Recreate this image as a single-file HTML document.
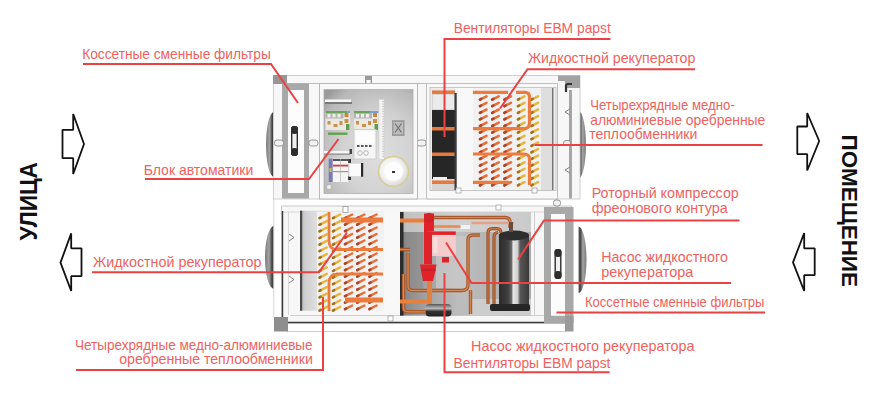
<!DOCTYPE html>
<html><head><meta charset="utf-8"><style>
html,body{margin:0;padding:0;background:#fff;width:884px;height:400px;overflow:hidden}
svg{display:block}
.t text{font-family:"Liberation Sans",sans-serif;font-size:14.5px;fill:#ee625e}
.v{font-family:"Liberation Sans",sans-serif;font-weight:bold;font-size:19px;fill:#111}
</style></head><body>
<svg width="884" height="400" viewBox="0 0 884 400">
<g id="unit">
<defs>
<linearGradient id="crl" x1="0" x2="1"><stop offset="0" stop-color="#7a7a7a"/><stop offset="0.45" stop-color="#a4a4a4"/><stop offset="0.8" stop-color="#3e3e3e"/><stop offset="1" stop-color="#6a6a6a"/></linearGradient>
<linearGradient id="crr" x1="1" x2="0"><stop offset="0" stop-color="#7a7a7a"/><stop offset="0.45" stop-color="#a4a4a4"/><stop offset="0.8" stop-color="#3e3e3e"/><stop offset="1" stop-color="#6a6a6a"/></linearGradient>
<radialGradient id="pg" cx="0.6" cy="0.62" r="0.8"><stop offset="0" stop-color="#dedede"/><stop offset="0.5" stop-color="#d2d2d2"/><stop offset="0.85" stop-color="#b8b8b8"/><stop offset="1" stop-color="#9a9a9a"/></radialGradient>
<linearGradient id="cg" x1="0" x2="1"><stop offset="0" stop-color="#2c2c2c"/><stop offset="0.3" stop-color="#3e3e3e"/><stop offset="0.42" stop-color="#6a6a6a"/><stop offset="0.47" stop-color="#e6e6e6"/><stop offset="0.62" stop-color="#cfcfcf"/><stop offset="0.7" stop-color="#585858"/><stop offset="1" stop-color="#3a3a3a"/></linearGradient>
<linearGradient id="bg2" x1="0" x2="1"><stop offset="0" stop-color="#555"/><stop offset="0.05" stop-color="#8a8a8a"/><stop offset="0.2" stop-color="#a2a2a2"/><stop offset="0.45" stop-color="#bdbdbd"/><stop offset="0.7" stop-color="#b4b4b4"/><stop offset="1" stop-color="#a8a8a8"/></linearGradient>
<linearGradient id="lg" x1="0" x2="1"><stop offset="0" stop-color="#b0b0b0"/><stop offset="0.06" stop-color="#cfcfcf"/><stop offset="0.25" stop-color="#e4e4e4"/><stop offset="1" stop-color="#efefef"/></linearGradient>
<linearGradient id="cyl" x1="0" x2="0" y1="0" y2="1"><stop offset="0" stop-color="#555"/><stop offset="0.35" stop-color="#bbb"/><stop offset="0.6" stop-color="#333"/><stop offset="1" stop-color="#222"/></linearGradient>
</defs>
<path d="M274,112 A8,32.5 0 0 0 274,177 Z" fill="url(#crl)"/>
<path d="M274,226 A9,31.5 0 0 0 274,289 Z" fill="url(#crl)"/>
<path d="M578.5,111 A7.5,33.7 0 0 1 578.5,178.4 Z" fill="url(#crr)"/>
<path d="M578.5,226.5 A8,33.25 0 0 1 578.5,293 Z" fill="url(#crr)"/>
<rect x="273.5" y="75.5" width="306.5" height="123.5" fill="#f7f7f7" stroke="#cfcfcf" stroke-width="1"/>
<line x1="287" y1="83.5" x2="558" y2="83.5" stroke="#bdbdbd" stroke-width="1"/>
<rect x="273" y="75" width="14" height="9" fill="#969696"/>
<rect x="558" y="75.5" width="22" height="12.5" fill="#a2a2a2"/><rect x="558" y="81" width="7" height="7" fill="#f4f4f4"/><path d="M566,92 V86 Q566,84 568,84 H572" fill="none" stroke="#333" stroke-width="2.2"/>
<rect x="569" y="90" width="3" height="108.5" fill="#a6a6a6"/>
<rect x="282" y="83.5" width="27" height="115" fill="#a8a8a8"/>
<rect x="288" y="90" width="16" height="103" fill="#fcfcfc"/>
<rect x="291.7" y="126.7" width="5.6" height="28.6" rx="2.5" fill="#f0f0f0" stroke="#2e2e2e" stroke-width="1.4"/><rect x="291" y="126" width="7" height="8" rx="3" fill="#2e2e2e"/><rect x="291" y="148" width="7" height="8" rx="3" fill="#2e2e2e"/>
<rect x="274.5" y="140.0" width="9" height="6" rx="2.5" fill="#f2f2f2" stroke="#8a8a8a" stroke-width="0.9"/>
<rect x="309.0" y="140.0" width="9" height="6" rx="2.5" fill="#f2f2f2" stroke="#8a8a8a" stroke-width="0.9"/>
<rect x="417.0" y="140.0" width="9" height="6" rx="2.5" fill="#f2f2f2" stroke="#8a8a8a" stroke-width="0.9"/>
<rect x="365" y="76" width="7" height="9" fill="#9a9a9a"/><rect x="366.5" y="80" width="4" height="4" fill="#fff"/>
<rect x="319.5" y="83.5" width="98" height="115.5" fill="#f8f8f8" stroke="#b8b8b8" stroke-width="1"/>
<rect x="324" y="89.5" width="89" height="104" fill="url(#pg)" stroke="#b0b0b0" stroke-width="0.8"/>
<rect x="325" y="99.5" width="26" height="2.5" fill="#f6f6f6"/><rect x="325" y="102" width="27" height="2" fill="#7a7a7a"/>
<rect x="324" y="151" width="26" height="2.5" fill="#f6f6f6"/><rect x="324" y="153.5" width="26" height="1.5" fill="#9a9a9a"/>
<rect x="325.5" y="111" width="24.5" height="19" fill="#ebe8e2"/><rect x="325.5" y="111" width="22" height="2" fill="#6aa457"/><rect x="347.5" y="111" width="2.5" height="2" fill="#7aa0d0"/><rect x="325.5" y="113" width="18" height="5.5" fill="#b4b4b4"/><rect x="327.5" y="114" width="3" height="3.5" fill="#eee"/><rect x="332.5" y="114" width="3" height="3.5" fill="#eee"/><rect x="337.5" y="114" width="3" height="3.5" fill="#eee"/><rect x="344.5" y="113" width="4" height="4" fill="#c8873c"/><rect x="327.5" y="121" width="3" height="3.5" fill="#c99050"/><rect x="333.5" y="124" width="4" height="3" fill="#c99050"/><rect x="339.5" y="121" width="3" height="4" fill="#c99050"/><rect x="344.5" y="119" width="4" height="4" fill="#c99050"/><rect x="346.0" y="124" width="3.5" height="6" fill="#5f9f4a"/>
<rect x="354" y="111" width="24.5" height="19" fill="#ebe8e2"/><rect x="354" y="111" width="16" height="2" fill="#6aa457"/><rect x="370" y="111" width="8.5" height="2" fill="#7aa0d0"/><rect x="354" y="113" width="18" height="5.5" fill="#b4b4b4"/><rect x="356" y="114" width="3" height="3.5" fill="#eee"/><rect x="361" y="114" width="3" height="3.5" fill="#eee"/><rect x="366" y="114" width="3" height="3.5" fill="#eee"/><rect x="373" y="113" width="4" height="4" fill="#c8873c"/><rect x="356" y="121" width="3" height="3.5" fill="#c99050"/><rect x="362" y="124" width="4" height="3" fill="#c99050"/><rect x="368" y="121" width="3" height="4" fill="#c99050"/><rect x="373" y="119" width="4" height="4" fill="#c99050"/><rect x="374.5" y="124" width="3.5" height="6" fill="#5f9f4a"/>
<rect x="328" y="132.5" width="19.5" height="2.4" fill="#62a24c"/>
<rect x="354" y="129.5" width="22" height="29.5" fill="#f6f6f6" stroke="#c8c8c8" stroke-width="0.8"/><rect x="356" y="131.5" width="18" height="12" fill="#fdfdfd"/>
<rect x="357" y="145" width="2.5" height="2" fill="#555"/><rect x="361" y="145" width="2.5" height="2" fill="#555"/><rect x="365" y="145" width="2.5" height="2" fill="#555"/><rect x="369" y="145" width="2.5" height="2" fill="#555"/>
<circle cx="360" cy="153" r="2.3" fill="none" stroke="#aaa" stroke-width="0.8"/><circle cx="366" cy="153" r="2.3" fill="none" stroke="#aaa" stroke-width="0.8"/>
<rect x="379" y="99.2" width="5" height="60.3" fill="#f4f4f4" stroke="#cfcfcf" stroke-width="0.6"/><line x1="383" y1="101" x2="383" y2="158" stroke="#999" stroke-width="0.8" stroke-dasharray="1 1.5"/>
<rect x="392" y="120.2" width="12.6" height="15.8" fill="#9a9a9a"/><rect x="393.5" y="122" width="9.6" height="12.2" fill="#bdbdbd"/><path d="M395,123.5 L401.5,132.5 M401.5,123.5 L395,132.5" stroke="#6e6e6e" stroke-width="1.2"/>
<rect x="349.5" y="149" width="2.5" height="5" fill="#444"/>
<rect x="328.7" y="158.7" width="3.8" height="23.3" fill="#7a7ab8"/><rect x="329.5" y="168" width="2" height="4" fill="#c8c850"/>
<rect x="333" y="158.7" width="15" height="23.3" fill="#f4f4f4"/><rect x="333" y="159" width="15" height="2" fill="#555"/><rect x="333" y="164.7" width="15" height="1.8" fill="#d9383a"/><rect x="333" y="171" width="15" height="1.2" fill="#999"/><line x1="340.5" y1="159" x2="340.5" y2="182" stroke="#aaa" stroke-width="0.6"/>
<rect x="348.2" y="159" width="2.8" height="4" fill="#333"/><rect x="348.2" y="176" width="2.8" height="4" fill="#333"/>
<rect x="349" y="163.2" width="12.7" height="13.5" fill="#fbfbfb" stroke="#c8c8c8" stroke-width="0.6"/><rect x="361" y="163" width="2.2" height="13.7" fill="#2a2a2a"/>
<defs><radialGradient id="rg" cx="0.45" cy="0.45" r="0.6"><stop offset="0" stop-color="#ffffff"/><stop offset="0.6" stop-color="#f2f2f2"/><stop offset="1" stop-color="#cfcfcf"/></radialGradient></defs>
<circle cx="393.5" cy="171.5" r="15" fill="url(#rg)" stroke="#d6cd90" stroke-width="1.4"/><circle cx="393.5" cy="171.5" r="9.5" fill="#fdfdfd"/><rect x="392" y="171" width="3" height="2" fill="#333"/>
<rect x="327" y="185" width="4" height="4" fill="#f4f4f4" stroke="#aaa" stroke-width="0.5"/>
<rect x="426.5" y="83.5" width="131" height="115.5" fill="#f8f8f8" stroke="#c0c0c0" stroke-width="1"/>
<rect x="430" y="87.5" width="126" height="103" fill="#ececec" stroke="#bdbdbd" stroke-width="0.8"/>
<rect x="432" y="90" width="23" height="100" fill="#d6d6d6"/>
<rect x="433" y="95" width="21" height="14" fill="#ebebeb"/>
<rect x="432" y="110" width="23" height="69" fill="#262626"/>
<rect x="433" y="177" width="14" height="3" fill="#f0f0f0"/>
<rect x="432" y="90.5" width="23" height="3.5" fill="#e8783c"/>
<rect x="432" y="127" width="23" height="3.5" fill="#e8783c"/>
<rect x="432" y="152.5" width="23" height="3.5" fill="#e8783c"/>
<rect x="432" y="180.5" width="23" height="3.5" fill="#e8783c"/>
<rect x="455" y="88" width="18" height="102" fill="#f8f8f8"/><rect x="454.5" y="93" width="2.2" height="97" fill="#3a3a3a"/>
<rect x="473" y="88" width="82" height="102" fill="#f1f1f1"/>
<rect x="541" y="88" width="12" height="102" fill="#dedede"/><line x1="552.8" y1="88" x2="552.8" y2="190" stroke="#666" stroke-width="1.3"/>
<line x1="480.0" y1="99.6" x2="486.5" y2="96.3" stroke="#e86f3a" stroke-width="2.6" stroke-linecap="round"/>
<line x1="480.0" y1="99.6" x2="481.2" y2="98.9" stroke="#a8452c" stroke-width="2.6" stroke-linecap="round"/>
<line x1="480.0" y1="106.2" x2="486.5" y2="102.9" stroke="#e86f3a" stroke-width="2.6" stroke-linecap="round"/>
<line x1="480.0" y1="106.2" x2="481.2" y2="105.5" stroke="#a8452c" stroke-width="2.6" stroke-linecap="round"/>
<line x1="480.0" y1="112.8" x2="486.5" y2="109.5" stroke="#e86f3a" stroke-width="2.6" stroke-linecap="round"/>
<line x1="480.0" y1="112.8" x2="481.2" y2="112.1" stroke="#a8452c" stroke-width="2.6" stroke-linecap="round"/>
<line x1="480.0" y1="119.4" x2="486.5" y2="116.1" stroke="#e86f3a" stroke-width="2.6" stroke-linecap="round"/>
<line x1="480.0" y1="119.4" x2="481.2" y2="118.7" stroke="#a8452c" stroke-width="2.6" stroke-linecap="round"/>
<line x1="480.0" y1="126.0" x2="486.5" y2="122.7" stroke="#e86f3a" stroke-width="2.6" stroke-linecap="round"/>
<line x1="480.0" y1="126.0" x2="481.2" y2="125.3" stroke="#a8452c" stroke-width="2.6" stroke-linecap="round"/>
<line x1="480.0" y1="132.6" x2="486.5" y2="129.3" stroke="#e86f3a" stroke-width="2.6" stroke-linecap="round"/>
<line x1="480.0" y1="132.6" x2="481.2" y2="131.9" stroke="#a8452c" stroke-width="2.6" stroke-linecap="round"/>
<line x1="480.0" y1="139.2" x2="486.5" y2="135.9" stroke="#e86f3a" stroke-width="2.6" stroke-linecap="round"/>
<line x1="480.0" y1="139.2" x2="481.2" y2="138.5" stroke="#a8452c" stroke-width="2.6" stroke-linecap="round"/>
<line x1="480.0" y1="145.8" x2="486.5" y2="142.5" stroke="#e86f3a" stroke-width="2.6" stroke-linecap="round"/>
<line x1="480.0" y1="145.8" x2="481.2" y2="145.1" stroke="#a8452c" stroke-width="2.6" stroke-linecap="round"/>
<line x1="480.0" y1="152.4" x2="486.5" y2="149.1" stroke="#e86f3a" stroke-width="2.6" stroke-linecap="round"/>
<line x1="480.0" y1="152.4" x2="481.2" y2="151.7" stroke="#a8452c" stroke-width="2.6" stroke-linecap="round"/>
<line x1="480.0" y1="159.0" x2="486.5" y2="155.7" stroke="#e86f3a" stroke-width="2.6" stroke-linecap="round"/>
<line x1="480.0" y1="159.0" x2="481.2" y2="158.3" stroke="#a8452c" stroke-width="2.6" stroke-linecap="round"/>
<line x1="480.0" y1="165.6" x2="486.5" y2="162.3" stroke="#e86f3a" stroke-width="2.6" stroke-linecap="round"/>
<line x1="480.0" y1="165.6" x2="481.2" y2="164.9" stroke="#a8452c" stroke-width="2.6" stroke-linecap="round"/>
<line x1="480.0" y1="172.2" x2="486.5" y2="168.9" stroke="#e86f3a" stroke-width="2.6" stroke-linecap="round"/>
<line x1="480.0" y1="172.2" x2="481.2" y2="171.5" stroke="#a8452c" stroke-width="2.6" stroke-linecap="round"/>
<line x1="480.0" y1="178.8" x2="486.5" y2="175.5" stroke="#e86f3a" stroke-width="2.6" stroke-linecap="round"/>
<line x1="480.0" y1="178.8" x2="481.2" y2="178.1" stroke="#a8452c" stroke-width="2.6" stroke-linecap="round"/>
<line x1="480.0" y1="185.4" x2="486.5" y2="182.1" stroke="#e86f3a" stroke-width="2.6" stroke-linecap="round"/>
<line x1="480.0" y1="185.4" x2="481.2" y2="184.7" stroke="#a8452c" stroke-width="2.6" stroke-linecap="round"/>
<line x1="492.2" y1="99.6" x2="498.7" y2="96.3" stroke="#e86f3a" stroke-width="2.6" stroke-linecap="round"/>
<line x1="492.2" y1="99.6" x2="493.4" y2="98.9" stroke="#a8452c" stroke-width="2.6" stroke-linecap="round"/>
<line x1="492.2" y1="106.2" x2="498.7" y2="102.9" stroke="#e86f3a" stroke-width="2.6" stroke-linecap="round"/>
<line x1="492.2" y1="106.2" x2="493.4" y2="105.5" stroke="#a8452c" stroke-width="2.6" stroke-linecap="round"/>
<line x1="492.2" y1="112.8" x2="498.7" y2="109.5" stroke="#e86f3a" stroke-width="2.6" stroke-linecap="round"/>
<line x1="492.2" y1="112.8" x2="493.4" y2="112.1" stroke="#a8452c" stroke-width="2.6" stroke-linecap="round"/>
<line x1="492.2" y1="119.4" x2="498.7" y2="116.1" stroke="#e86f3a" stroke-width="2.6" stroke-linecap="round"/>
<line x1="492.2" y1="119.4" x2="493.4" y2="118.7" stroke="#a8452c" stroke-width="2.6" stroke-linecap="round"/>
<line x1="492.2" y1="126.0" x2="498.7" y2="122.7" stroke="#e86f3a" stroke-width="2.6" stroke-linecap="round"/>
<line x1="492.2" y1="126.0" x2="493.4" y2="125.3" stroke="#a8452c" stroke-width="2.6" stroke-linecap="round"/>
<line x1="492.2" y1="132.6" x2="498.7" y2="129.3" stroke="#e86f3a" stroke-width="2.6" stroke-linecap="round"/>
<line x1="492.2" y1="132.6" x2="493.4" y2="131.9" stroke="#a8452c" stroke-width="2.6" stroke-linecap="round"/>
<line x1="492.2" y1="139.2" x2="498.7" y2="135.9" stroke="#e86f3a" stroke-width="2.6" stroke-linecap="round"/>
<line x1="492.2" y1="139.2" x2="493.4" y2="138.5" stroke="#a8452c" stroke-width="2.6" stroke-linecap="round"/>
<line x1="492.2" y1="145.8" x2="498.7" y2="142.5" stroke="#e86f3a" stroke-width="2.6" stroke-linecap="round"/>
<line x1="492.2" y1="145.8" x2="493.4" y2="145.1" stroke="#a8452c" stroke-width="2.6" stroke-linecap="round"/>
<line x1="492.2" y1="152.4" x2="498.7" y2="149.1" stroke="#e86f3a" stroke-width="2.6" stroke-linecap="round"/>
<line x1="492.2" y1="152.4" x2="493.4" y2="151.7" stroke="#a8452c" stroke-width="2.6" stroke-linecap="round"/>
<line x1="492.2" y1="159.0" x2="498.7" y2="155.7" stroke="#e86f3a" stroke-width="2.6" stroke-linecap="round"/>
<line x1="492.2" y1="159.0" x2="493.4" y2="158.3" stroke="#a8452c" stroke-width="2.6" stroke-linecap="round"/>
<line x1="492.2" y1="165.6" x2="498.7" y2="162.3" stroke="#e86f3a" stroke-width="2.6" stroke-linecap="round"/>
<line x1="492.2" y1="165.6" x2="493.4" y2="164.9" stroke="#a8452c" stroke-width="2.6" stroke-linecap="round"/>
<line x1="492.2" y1="172.2" x2="498.7" y2="168.9" stroke="#e86f3a" stroke-width="2.6" stroke-linecap="round"/>
<line x1="492.2" y1="172.2" x2="493.4" y2="171.5" stroke="#a8452c" stroke-width="2.6" stroke-linecap="round"/>
<line x1="492.2" y1="178.8" x2="498.7" y2="175.5" stroke="#e86f3a" stroke-width="2.6" stroke-linecap="round"/>
<line x1="492.2" y1="178.8" x2="493.4" y2="178.1" stroke="#a8452c" stroke-width="2.6" stroke-linecap="round"/>
<line x1="492.2" y1="185.4" x2="498.7" y2="182.1" stroke="#e86f3a" stroke-width="2.6" stroke-linecap="round"/>
<line x1="492.2" y1="185.4" x2="493.4" y2="184.7" stroke="#a8452c" stroke-width="2.6" stroke-linecap="round"/>
<line x1="504.4" y1="99.6" x2="510.9" y2="96.3" stroke="#e86f3a" stroke-width="2.6" stroke-linecap="round"/>
<line x1="504.4" y1="99.6" x2="505.6" y2="98.9" stroke="#a8452c" stroke-width="2.6" stroke-linecap="round"/>
<line x1="504.4" y1="106.2" x2="510.9" y2="102.9" stroke="#e86f3a" stroke-width="2.6" stroke-linecap="round"/>
<line x1="504.4" y1="106.2" x2="505.6" y2="105.5" stroke="#a8452c" stroke-width="2.6" stroke-linecap="round"/>
<line x1="504.4" y1="112.8" x2="510.9" y2="109.5" stroke="#e86f3a" stroke-width="2.6" stroke-linecap="round"/>
<line x1="504.4" y1="112.8" x2="505.6" y2="112.1" stroke="#a8452c" stroke-width="2.6" stroke-linecap="round"/>
<line x1="504.4" y1="119.4" x2="510.9" y2="116.1" stroke="#e86f3a" stroke-width="2.6" stroke-linecap="round"/>
<line x1="504.4" y1="119.4" x2="505.6" y2="118.7" stroke="#a8452c" stroke-width="2.6" stroke-linecap="round"/>
<line x1="504.4" y1="126.0" x2="510.9" y2="122.7" stroke="#e86f3a" stroke-width="2.6" stroke-linecap="round"/>
<line x1="504.4" y1="126.0" x2="505.6" y2="125.3" stroke="#a8452c" stroke-width="2.6" stroke-linecap="round"/>
<line x1="504.4" y1="132.6" x2="510.9" y2="129.3" stroke="#e86f3a" stroke-width="2.6" stroke-linecap="round"/>
<line x1="504.4" y1="132.6" x2="505.6" y2="131.9" stroke="#a8452c" stroke-width="2.6" stroke-linecap="round"/>
<line x1="504.4" y1="139.2" x2="510.9" y2="135.9" stroke="#e86f3a" stroke-width="2.6" stroke-linecap="round"/>
<line x1="504.4" y1="139.2" x2="505.6" y2="138.5" stroke="#a8452c" stroke-width="2.6" stroke-linecap="round"/>
<line x1="504.4" y1="145.8" x2="510.9" y2="142.5" stroke="#e86f3a" stroke-width="2.6" stroke-linecap="round"/>
<line x1="504.4" y1="145.8" x2="505.6" y2="145.1" stroke="#a8452c" stroke-width="2.6" stroke-linecap="round"/>
<line x1="504.4" y1="152.4" x2="510.9" y2="149.1" stroke="#e86f3a" stroke-width="2.6" stroke-linecap="round"/>
<line x1="504.4" y1="152.4" x2="505.6" y2="151.7" stroke="#a8452c" stroke-width="2.6" stroke-linecap="round"/>
<line x1="504.4" y1="159.0" x2="510.9" y2="155.7" stroke="#e86f3a" stroke-width="2.6" stroke-linecap="round"/>
<line x1="504.4" y1="159.0" x2="505.6" y2="158.3" stroke="#a8452c" stroke-width="2.6" stroke-linecap="round"/>
<line x1="504.4" y1="165.6" x2="510.9" y2="162.3" stroke="#e86f3a" stroke-width="2.6" stroke-linecap="round"/>
<line x1="504.4" y1="165.6" x2="505.6" y2="164.9" stroke="#a8452c" stroke-width="2.6" stroke-linecap="round"/>
<line x1="504.4" y1="172.2" x2="510.9" y2="168.9" stroke="#e86f3a" stroke-width="2.6" stroke-linecap="round"/>
<line x1="504.4" y1="172.2" x2="505.6" y2="171.5" stroke="#a8452c" stroke-width="2.6" stroke-linecap="round"/>
<line x1="504.4" y1="178.8" x2="510.9" y2="175.5" stroke="#e86f3a" stroke-width="2.6" stroke-linecap="round"/>
<line x1="504.4" y1="178.8" x2="505.6" y2="178.1" stroke="#a8452c" stroke-width="2.6" stroke-linecap="round"/>
<line x1="504.4" y1="185.4" x2="510.9" y2="182.1" stroke="#e86f3a" stroke-width="2.6" stroke-linecap="round"/>
<line x1="504.4" y1="185.4" x2="505.6" y2="184.7" stroke="#a8452c" stroke-width="2.6" stroke-linecap="round"/>
<line x1="518.0" y1="99.6" x2="524.5" y2="96.3" stroke="#e6b640" stroke-width="2.6" stroke-linecap="round"/>
<line x1="518.0" y1="99.6" x2="519.2" y2="98.9" stroke="#a07028" stroke-width="2.6" stroke-linecap="round"/>
<line x1="518.0" y1="106.2" x2="524.5" y2="102.9" stroke="#e6b640" stroke-width="2.6" stroke-linecap="round"/>
<line x1="518.0" y1="106.2" x2="519.2" y2="105.5" stroke="#a07028" stroke-width="2.6" stroke-linecap="round"/>
<line x1="518.0" y1="112.8" x2="524.5" y2="109.5" stroke="#e6b640" stroke-width="2.6" stroke-linecap="round"/>
<line x1="518.0" y1="112.8" x2="519.2" y2="112.1" stroke="#a07028" stroke-width="2.6" stroke-linecap="round"/>
<line x1="518.0" y1="119.4" x2="524.5" y2="116.1" stroke="#e6b640" stroke-width="2.6" stroke-linecap="round"/>
<line x1="518.0" y1="119.4" x2="519.2" y2="118.7" stroke="#a07028" stroke-width="2.6" stroke-linecap="round"/>
<line x1="518.0" y1="126.0" x2="524.5" y2="122.7" stroke="#e6b640" stroke-width="2.6" stroke-linecap="round"/>
<line x1="518.0" y1="126.0" x2="519.2" y2="125.3" stroke="#a07028" stroke-width="2.6" stroke-linecap="round"/>
<line x1="518.0" y1="132.6" x2="524.5" y2="129.3" stroke="#e6b640" stroke-width="2.6" stroke-linecap="round"/>
<line x1="518.0" y1="132.6" x2="519.2" y2="131.9" stroke="#a07028" stroke-width="2.6" stroke-linecap="round"/>
<line x1="518.0" y1="139.2" x2="524.5" y2="135.9" stroke="#e6b640" stroke-width="2.6" stroke-linecap="round"/>
<line x1="518.0" y1="139.2" x2="519.2" y2="138.5" stroke="#a07028" stroke-width="2.6" stroke-linecap="round"/>
<line x1="518.0" y1="145.8" x2="524.5" y2="142.5" stroke="#e6b640" stroke-width="2.6" stroke-linecap="round"/>
<line x1="518.0" y1="145.8" x2="519.2" y2="145.1" stroke="#a07028" stroke-width="2.6" stroke-linecap="round"/>
<line x1="518.0" y1="152.4" x2="524.5" y2="149.1" stroke="#e6b640" stroke-width="2.6" stroke-linecap="round"/>
<line x1="518.0" y1="152.4" x2="519.2" y2="151.7" stroke="#a07028" stroke-width="2.6" stroke-linecap="round"/>
<line x1="518.0" y1="159.0" x2="524.5" y2="155.7" stroke="#e6b640" stroke-width="2.6" stroke-linecap="round"/>
<line x1="518.0" y1="159.0" x2="519.2" y2="158.3" stroke="#a07028" stroke-width="2.6" stroke-linecap="round"/>
<line x1="518.0" y1="165.6" x2="524.5" y2="162.3" stroke="#e6b640" stroke-width="2.6" stroke-linecap="round"/>
<line x1="518.0" y1="165.6" x2="519.2" y2="164.9" stroke="#a07028" stroke-width="2.6" stroke-linecap="round"/>
<line x1="518.0" y1="172.2" x2="524.5" y2="168.9" stroke="#e6b640" stroke-width="2.6" stroke-linecap="round"/>
<line x1="518.0" y1="172.2" x2="519.2" y2="171.5" stroke="#a07028" stroke-width="2.6" stroke-linecap="round"/>
<line x1="518.0" y1="178.8" x2="524.5" y2="175.5" stroke="#e6b640" stroke-width="2.6" stroke-linecap="round"/>
<line x1="518.0" y1="178.8" x2="519.2" y2="178.1" stroke="#a07028" stroke-width="2.6" stroke-linecap="round"/>
<line x1="518.0" y1="185.4" x2="524.5" y2="182.1" stroke="#e6b640" stroke-width="2.6" stroke-linecap="round"/>
<line x1="518.0" y1="185.4" x2="519.2" y2="184.7" stroke="#a07028" stroke-width="2.6" stroke-linecap="round"/>
<line x1="531.5" y1="99.6" x2="538.0" y2="96.3" stroke="#e6b640" stroke-width="2.6" stroke-linecap="round"/>
<line x1="531.5" y1="99.6" x2="532.7" y2="98.9" stroke="#a07028" stroke-width="2.6" stroke-linecap="round"/>
<line x1="531.5" y1="106.2" x2="538.0" y2="102.9" stroke="#e6b640" stroke-width="2.6" stroke-linecap="round"/>
<line x1="531.5" y1="106.2" x2="532.7" y2="105.5" stroke="#a07028" stroke-width="2.6" stroke-linecap="round"/>
<line x1="531.5" y1="112.8" x2="538.0" y2="109.5" stroke="#e6b640" stroke-width="2.6" stroke-linecap="round"/>
<line x1="531.5" y1="112.8" x2="532.7" y2="112.1" stroke="#a07028" stroke-width="2.6" stroke-linecap="round"/>
<line x1="531.5" y1="119.4" x2="538.0" y2="116.1" stroke="#e6b640" stroke-width="2.6" stroke-linecap="round"/>
<line x1="531.5" y1="119.4" x2="532.7" y2="118.7" stroke="#a07028" stroke-width="2.6" stroke-linecap="round"/>
<line x1="531.5" y1="126.0" x2="538.0" y2="122.7" stroke="#e6b640" stroke-width="2.6" stroke-linecap="round"/>
<line x1="531.5" y1="126.0" x2="532.7" y2="125.3" stroke="#a07028" stroke-width="2.6" stroke-linecap="round"/>
<line x1="531.5" y1="132.6" x2="538.0" y2="129.3" stroke="#e6b640" stroke-width="2.6" stroke-linecap="round"/>
<line x1="531.5" y1="132.6" x2="532.7" y2="131.9" stroke="#a07028" stroke-width="2.6" stroke-linecap="round"/>
<line x1="531.5" y1="139.2" x2="538.0" y2="135.9" stroke="#e6b640" stroke-width="2.6" stroke-linecap="round"/>
<line x1="531.5" y1="139.2" x2="532.7" y2="138.5" stroke="#a07028" stroke-width="2.6" stroke-linecap="round"/>
<line x1="531.5" y1="145.8" x2="538.0" y2="142.5" stroke="#e6b640" stroke-width="2.6" stroke-linecap="round"/>
<line x1="531.5" y1="145.8" x2="532.7" y2="145.1" stroke="#a07028" stroke-width="2.6" stroke-linecap="round"/>
<line x1="531.5" y1="152.4" x2="538.0" y2="149.1" stroke="#e6b640" stroke-width="2.6" stroke-linecap="round"/>
<line x1="531.5" y1="152.4" x2="532.7" y2="151.7" stroke="#a07028" stroke-width="2.6" stroke-linecap="round"/>
<line x1="531.5" y1="159.0" x2="538.0" y2="155.7" stroke="#e6b640" stroke-width="2.6" stroke-linecap="round"/>
<line x1="531.5" y1="159.0" x2="532.7" y2="158.3" stroke="#a07028" stroke-width="2.6" stroke-linecap="round"/>
<line x1="531.5" y1="165.6" x2="538.0" y2="162.3" stroke="#e6b640" stroke-width="2.6" stroke-linecap="round"/>
<line x1="531.5" y1="165.6" x2="532.7" y2="164.9" stroke="#a07028" stroke-width="2.6" stroke-linecap="round"/>
<line x1="531.5" y1="172.2" x2="538.0" y2="168.9" stroke="#e6b640" stroke-width="2.6" stroke-linecap="round"/>
<line x1="531.5" y1="172.2" x2="532.7" y2="171.5" stroke="#a07028" stroke-width="2.6" stroke-linecap="round"/>
<line x1="531.5" y1="178.8" x2="538.0" y2="175.5" stroke="#e6b640" stroke-width="2.6" stroke-linecap="round"/>
<line x1="531.5" y1="178.8" x2="532.7" y2="178.1" stroke="#a07028" stroke-width="2.6" stroke-linecap="round"/>
<line x1="531.5" y1="185.4" x2="538.0" y2="182.1" stroke="#e6b640" stroke-width="2.6" stroke-linecap="round"/>
<line x1="531.5" y1="185.4" x2="532.7" y2="184.7" stroke="#a07028" stroke-width="2.6" stroke-linecap="round"/>
<path d="M473,92.3 H508 M516,92.3 H525 Q529.5,92.3 529.5,97 V123 Q529.5,128.6 524,128.6 H473 M473,154 H524 Q529.5,154 529.5,159 V185" fill="none" stroke="#eb7c3e" stroke-width="3.2"/>
<path d="M473,182.4 H509" fill="none" stroke="#eb7c3e" stroke-width="3.2"/>
<path d="M570,109 L565,112 L570,115" fill="none" stroke="#777" stroke-width="0.9"/><path d="M570,167 L565,170 L570,173" fill="none" stroke="#777" stroke-width="0.9"/>
<rect x="563.5" y="140.5" width="7" height="5" rx="2.5" fill="#f2f2f2" stroke="#8a8a8a" stroke-width="0.9"/>
<line x1="430" y1="190.5" x2="556" y2="190.5" stroke="#c4c4c4" stroke-width="1"/>
<rect x="456" y="188" width="5" height="5" fill="#fff" stroke="#999" stroke-width="0.7"/><rect x="532" y="188" width="5" height="5" fill="#fff" stroke="#999" stroke-width="0.7"/>
<line x1="273.8" y1="199" x2="273.8" y2="317" stroke="#d4d4d4" stroke-width="1"/>
<rect x="281.5" y="206" width="290" height="117" fill="#f7f7f7" stroke="#c8c8c8" stroke-width="1"/>
<line x1="287" y1="331.5" x2="566" y2="331.5" stroke="#d2d2d2" stroke-width="1"/>
<line x1="283" y1="212" x2="571" y2="212" stroke="#d6d6d6" stroke-width="1"/>
<line x1="290" y1="315.5" x2="544" y2="315.5" stroke="#d0d0d0" stroke-width="1"/>
<path d="M282.5,211 V322.5 H566" fill="none" stroke="#3a3a3a" stroke-width="1.4"/>
<rect x="274" y="317" width="14" height="14.5" fill="#8e8e8e"/>
<line x1="288.5" y1="212" x2="288.5" y2="315" stroke="#dadada" stroke-width="1"/>
<path d="M289,234 L294,237.5 L289,241" fill="none" stroke="#777" stroke-width="0.9"/><path d="M289,276 L294,279.5 L289,283" fill="none" stroke="#777" stroke-width="0.9"/>
<rect x="300" y="210.7" width="84" height="100" fill="url(#lg)"/>
<rect x="300" y="210.7" width="2.2" height="100" fill="#4a4a4a"/>
<rect x="317" y="212" width="67" height="99" fill="#f2f2f2"/>
<line x1="319.5" y1="218.2" x2="326.7" y2="214.5" stroke="#e6b640" stroke-width="2.5" stroke-linecap="round"/>
<line x1="319.5" y1="218.2" x2="320.7" y2="217.5" stroke="#a07028" stroke-width="2.5" stroke-linecap="round"/>
<line x1="319.5" y1="224.8" x2="326.7" y2="221.1" stroke="#e6b640" stroke-width="2.5" stroke-linecap="round"/>
<line x1="319.5" y1="224.8" x2="320.7" y2="224.1" stroke="#a07028" stroke-width="2.5" stroke-linecap="round"/>
<line x1="319.5" y1="231.4" x2="326.7" y2="227.7" stroke="#e6b640" stroke-width="2.5" stroke-linecap="round"/>
<line x1="319.5" y1="231.4" x2="320.7" y2="230.7" stroke="#a07028" stroke-width="2.5" stroke-linecap="round"/>
<line x1="319.5" y1="238.0" x2="326.7" y2="234.3" stroke="#e6b640" stroke-width="2.5" stroke-linecap="round"/>
<line x1="319.5" y1="238.0" x2="320.7" y2="237.3" stroke="#a07028" stroke-width="2.5" stroke-linecap="round"/>
<line x1="319.5" y1="244.6" x2="326.7" y2="240.9" stroke="#e6b640" stroke-width="2.5" stroke-linecap="round"/>
<line x1="319.5" y1="244.6" x2="320.7" y2="243.9" stroke="#a07028" stroke-width="2.5" stroke-linecap="round"/>
<line x1="319.5" y1="251.2" x2="326.7" y2="247.5" stroke="#e6b640" stroke-width="2.5" stroke-linecap="round"/>
<line x1="319.5" y1="251.2" x2="320.7" y2="250.5" stroke="#a07028" stroke-width="2.5" stroke-linecap="round"/>
<line x1="319.5" y1="257.8" x2="326.7" y2="254.1" stroke="#e6b640" stroke-width="2.5" stroke-linecap="round"/>
<line x1="319.5" y1="257.8" x2="320.7" y2="257.1" stroke="#a07028" stroke-width="2.5" stroke-linecap="round"/>
<line x1="319.5" y1="264.4" x2="326.7" y2="260.7" stroke="#e6b640" stroke-width="2.5" stroke-linecap="round"/>
<line x1="319.5" y1="264.4" x2="320.7" y2="263.7" stroke="#a07028" stroke-width="2.5" stroke-linecap="round"/>
<line x1="319.5" y1="271.0" x2="326.7" y2="267.3" stroke="#e6b640" stroke-width="2.5" stroke-linecap="round"/>
<line x1="319.5" y1="271.0" x2="320.7" y2="270.3" stroke="#a07028" stroke-width="2.5" stroke-linecap="round"/>
<line x1="319.5" y1="277.6" x2="326.7" y2="273.9" stroke="#e6b640" stroke-width="2.5" stroke-linecap="round"/>
<line x1="319.5" y1="277.6" x2="320.7" y2="276.9" stroke="#a07028" stroke-width="2.5" stroke-linecap="round"/>
<line x1="319.5" y1="284.2" x2="326.7" y2="280.5" stroke="#e6b640" stroke-width="2.5" stroke-linecap="round"/>
<line x1="319.5" y1="284.2" x2="320.7" y2="283.5" stroke="#a07028" stroke-width="2.5" stroke-linecap="round"/>
<line x1="319.5" y1="290.8" x2="326.7" y2="287.1" stroke="#e6b640" stroke-width="2.5" stroke-linecap="round"/>
<line x1="319.5" y1="290.8" x2="320.7" y2="290.1" stroke="#a07028" stroke-width="2.5" stroke-linecap="round"/>
<line x1="319.5" y1="297.4" x2="326.7" y2="293.7" stroke="#e6b640" stroke-width="2.5" stroke-linecap="round"/>
<line x1="319.5" y1="297.4" x2="320.7" y2="296.7" stroke="#a07028" stroke-width="2.5" stroke-linecap="round"/>
<line x1="319.5" y1="304.0" x2="326.7" y2="300.3" stroke="#e6b640" stroke-width="2.5" stroke-linecap="round"/>
<line x1="319.5" y1="304.0" x2="320.7" y2="303.3" stroke="#a07028" stroke-width="2.5" stroke-linecap="round"/>
<line x1="319.5" y1="310.6" x2="326.7" y2="306.9" stroke="#e6b640" stroke-width="2.5" stroke-linecap="round"/>
<line x1="319.5" y1="310.6" x2="320.7" y2="309.9" stroke="#a07028" stroke-width="2.5" stroke-linecap="round"/>
<line x1="333.0" y1="218.2" x2="340.2" y2="214.5" stroke="#e6b640" stroke-width="2.5" stroke-linecap="round"/>
<line x1="333.0" y1="218.2" x2="334.2" y2="217.5" stroke="#a07028" stroke-width="2.5" stroke-linecap="round"/>
<line x1="333.0" y1="224.8" x2="340.2" y2="221.1" stroke="#e6b640" stroke-width="2.5" stroke-linecap="round"/>
<line x1="333.0" y1="224.8" x2="334.2" y2="224.1" stroke="#a07028" stroke-width="2.5" stroke-linecap="round"/>
<line x1="333.0" y1="231.4" x2="340.2" y2="227.7" stroke="#e6b640" stroke-width="2.5" stroke-linecap="round"/>
<line x1="333.0" y1="231.4" x2="334.2" y2="230.7" stroke="#a07028" stroke-width="2.5" stroke-linecap="round"/>
<line x1="333.0" y1="238.0" x2="340.2" y2="234.3" stroke="#e6b640" stroke-width="2.5" stroke-linecap="round"/>
<line x1="333.0" y1="238.0" x2="334.2" y2="237.3" stroke="#a07028" stroke-width="2.5" stroke-linecap="round"/>
<line x1="333.0" y1="244.6" x2="340.2" y2="240.9" stroke="#e6b640" stroke-width="2.5" stroke-linecap="round"/>
<line x1="333.0" y1="244.6" x2="334.2" y2="243.9" stroke="#a07028" stroke-width="2.5" stroke-linecap="round"/>
<line x1="333.0" y1="251.2" x2="340.2" y2="247.5" stroke="#e6b640" stroke-width="2.5" stroke-linecap="round"/>
<line x1="333.0" y1="251.2" x2="334.2" y2="250.5" stroke="#a07028" stroke-width="2.5" stroke-linecap="round"/>
<line x1="333.0" y1="257.8" x2="340.2" y2="254.1" stroke="#e6b640" stroke-width="2.5" stroke-linecap="round"/>
<line x1="333.0" y1="257.8" x2="334.2" y2="257.1" stroke="#a07028" stroke-width="2.5" stroke-linecap="round"/>
<line x1="333.0" y1="264.4" x2="340.2" y2="260.7" stroke="#e6b640" stroke-width="2.5" stroke-linecap="round"/>
<line x1="333.0" y1="264.4" x2="334.2" y2="263.7" stroke="#a07028" stroke-width="2.5" stroke-linecap="round"/>
<line x1="333.0" y1="271.0" x2="340.2" y2="267.3" stroke="#e6b640" stroke-width="2.5" stroke-linecap="round"/>
<line x1="333.0" y1="271.0" x2="334.2" y2="270.3" stroke="#a07028" stroke-width="2.5" stroke-linecap="round"/>
<line x1="333.0" y1="277.6" x2="340.2" y2="273.9" stroke="#e6b640" stroke-width="2.5" stroke-linecap="round"/>
<line x1="333.0" y1="277.6" x2="334.2" y2="276.9" stroke="#a07028" stroke-width="2.5" stroke-linecap="round"/>
<line x1="333.0" y1="284.2" x2="340.2" y2="280.5" stroke="#e6b640" stroke-width="2.5" stroke-linecap="round"/>
<line x1="333.0" y1="284.2" x2="334.2" y2="283.5" stroke="#a07028" stroke-width="2.5" stroke-linecap="round"/>
<line x1="333.0" y1="290.8" x2="340.2" y2="287.1" stroke="#e6b640" stroke-width="2.5" stroke-linecap="round"/>
<line x1="333.0" y1="290.8" x2="334.2" y2="290.1" stroke="#a07028" stroke-width="2.5" stroke-linecap="round"/>
<line x1="333.0" y1="297.4" x2="340.2" y2="293.7" stroke="#e6b640" stroke-width="2.5" stroke-linecap="round"/>
<line x1="333.0" y1="297.4" x2="334.2" y2="296.7" stroke="#a07028" stroke-width="2.5" stroke-linecap="round"/>
<line x1="333.0" y1="304.0" x2="340.2" y2="300.3" stroke="#e6b640" stroke-width="2.5" stroke-linecap="round"/>
<line x1="333.0" y1="304.0" x2="334.2" y2="303.3" stroke="#a07028" stroke-width="2.5" stroke-linecap="round"/>
<line x1="333.0" y1="310.6" x2="340.2" y2="306.9" stroke="#e6b640" stroke-width="2.5" stroke-linecap="round"/>
<line x1="333.0" y1="310.6" x2="334.2" y2="309.9" stroke="#a07028" stroke-width="2.5" stroke-linecap="round"/>
<line x1="345.0" y1="218.2" x2="352.2" y2="214.5" stroke="#e86f3a" stroke-width="2.5" stroke-linecap="round"/>
<line x1="345.0" y1="218.2" x2="346.2" y2="217.5" stroke="#a8452c" stroke-width="2.5" stroke-linecap="round"/>
<line x1="345.0" y1="224.7" x2="352.2" y2="221.0" stroke="#e86f3a" stroke-width="2.5" stroke-linecap="round"/>
<line x1="345.0" y1="224.7" x2="346.2" y2="224.0" stroke="#a8452c" stroke-width="2.5" stroke-linecap="round"/>
<line x1="345.0" y1="231.2" x2="352.2" y2="227.5" stroke="#e86f3a" stroke-width="2.5" stroke-linecap="round"/>
<line x1="345.0" y1="231.2" x2="346.2" y2="230.5" stroke="#a8452c" stroke-width="2.5" stroke-linecap="round"/>
<line x1="345.0" y1="237.7" x2="352.2" y2="234.0" stroke="#e86f3a" stroke-width="2.5" stroke-linecap="round"/>
<line x1="345.0" y1="237.7" x2="346.2" y2="237.0" stroke="#a8452c" stroke-width="2.5" stroke-linecap="round"/>
<line x1="345.0" y1="244.2" x2="352.2" y2="240.5" stroke="#e86f3a" stroke-width="2.5" stroke-linecap="round"/>
<line x1="345.0" y1="244.2" x2="346.2" y2="243.5" stroke="#a8452c" stroke-width="2.5" stroke-linecap="round"/>
<line x1="345.0" y1="250.7" x2="352.2" y2="247.0" stroke="#e86f3a" stroke-width="2.5" stroke-linecap="round"/>
<line x1="345.0" y1="250.7" x2="346.2" y2="250.0" stroke="#a8452c" stroke-width="2.5" stroke-linecap="round"/>
<line x1="345.0" y1="257.2" x2="352.2" y2="253.5" stroke="#e86f3a" stroke-width="2.5" stroke-linecap="round"/>
<line x1="345.0" y1="257.2" x2="346.2" y2="256.5" stroke="#a8452c" stroke-width="2.5" stroke-linecap="round"/>
<line x1="345.0" y1="263.7" x2="352.2" y2="260.0" stroke="#e86f3a" stroke-width="2.5" stroke-linecap="round"/>
<line x1="345.0" y1="263.7" x2="346.2" y2="263.0" stroke="#a8452c" stroke-width="2.5" stroke-linecap="round"/>
<line x1="345.0" y1="270.2" x2="352.2" y2="266.5" stroke="#e86f3a" stroke-width="2.5" stroke-linecap="round"/>
<line x1="345.0" y1="270.2" x2="346.2" y2="269.5" stroke="#a8452c" stroke-width="2.5" stroke-linecap="round"/>
<line x1="345.0" y1="276.7" x2="352.2" y2="273.0" stroke="#e86f3a" stroke-width="2.5" stroke-linecap="round"/>
<line x1="345.0" y1="276.7" x2="346.2" y2="276.0" stroke="#a8452c" stroke-width="2.5" stroke-linecap="round"/>
<line x1="345.0" y1="283.2" x2="352.2" y2="279.5" stroke="#e86f3a" stroke-width="2.5" stroke-linecap="round"/>
<line x1="345.0" y1="283.2" x2="346.2" y2="282.5" stroke="#a8452c" stroke-width="2.5" stroke-linecap="round"/>
<line x1="345.0" y1="289.7" x2="352.2" y2="286.0" stroke="#e86f3a" stroke-width="2.5" stroke-linecap="round"/>
<line x1="345.0" y1="289.7" x2="346.2" y2="289.0" stroke="#a8452c" stroke-width="2.5" stroke-linecap="round"/>
<line x1="345.0" y1="296.2" x2="352.2" y2="292.5" stroke="#e86f3a" stroke-width="2.5" stroke-linecap="round"/>
<line x1="345.0" y1="296.2" x2="346.2" y2="295.5" stroke="#a8452c" stroke-width="2.5" stroke-linecap="round"/>
<line x1="345.0" y1="302.7" x2="352.2" y2="299.0" stroke="#e86f3a" stroke-width="2.5" stroke-linecap="round"/>
<line x1="345.0" y1="302.7" x2="346.2" y2="302.0" stroke="#a8452c" stroke-width="2.5" stroke-linecap="round"/>
<line x1="345.0" y1="309.2" x2="352.2" y2="305.5" stroke="#e86f3a" stroke-width="2.5" stroke-linecap="round"/>
<line x1="345.0" y1="309.2" x2="346.2" y2="308.5" stroke="#a8452c" stroke-width="2.5" stroke-linecap="round"/>
<line x1="357.2" y1="218.2" x2="364.4" y2="214.5" stroke="#e86f3a" stroke-width="2.5" stroke-linecap="round"/>
<line x1="357.2" y1="218.2" x2="358.4" y2="217.5" stroke="#a8452c" stroke-width="2.5" stroke-linecap="round"/>
<line x1="357.2" y1="224.7" x2="364.4" y2="221.0" stroke="#e86f3a" stroke-width="2.5" stroke-linecap="round"/>
<line x1="357.2" y1="224.7" x2="358.4" y2="224.0" stroke="#a8452c" stroke-width="2.5" stroke-linecap="round"/>
<line x1="357.2" y1="231.2" x2="364.4" y2="227.5" stroke="#e86f3a" stroke-width="2.5" stroke-linecap="round"/>
<line x1="357.2" y1="231.2" x2="358.4" y2="230.5" stroke="#a8452c" stroke-width="2.5" stroke-linecap="round"/>
<line x1="357.2" y1="237.7" x2="364.4" y2="234.0" stroke="#e86f3a" stroke-width="2.5" stroke-linecap="round"/>
<line x1="357.2" y1="237.7" x2="358.4" y2="237.0" stroke="#a8452c" stroke-width="2.5" stroke-linecap="round"/>
<line x1="357.2" y1="244.2" x2="364.4" y2="240.5" stroke="#e86f3a" stroke-width="2.5" stroke-linecap="round"/>
<line x1="357.2" y1="244.2" x2="358.4" y2="243.5" stroke="#a8452c" stroke-width="2.5" stroke-linecap="round"/>
<line x1="357.2" y1="250.7" x2="364.4" y2="247.0" stroke="#e86f3a" stroke-width="2.5" stroke-linecap="round"/>
<line x1="357.2" y1="250.7" x2="358.4" y2="250.0" stroke="#a8452c" stroke-width="2.5" stroke-linecap="round"/>
<line x1="357.2" y1="257.2" x2="364.4" y2="253.5" stroke="#e86f3a" stroke-width="2.5" stroke-linecap="round"/>
<line x1="357.2" y1="257.2" x2="358.4" y2="256.5" stroke="#a8452c" stroke-width="2.5" stroke-linecap="round"/>
<line x1="357.2" y1="263.7" x2="364.4" y2="260.0" stroke="#e86f3a" stroke-width="2.5" stroke-linecap="round"/>
<line x1="357.2" y1="263.7" x2="358.4" y2="263.0" stroke="#a8452c" stroke-width="2.5" stroke-linecap="round"/>
<line x1="357.2" y1="270.2" x2="364.4" y2="266.5" stroke="#e86f3a" stroke-width="2.5" stroke-linecap="round"/>
<line x1="357.2" y1="270.2" x2="358.4" y2="269.5" stroke="#a8452c" stroke-width="2.5" stroke-linecap="round"/>
<line x1="357.2" y1="276.7" x2="364.4" y2="273.0" stroke="#e86f3a" stroke-width="2.5" stroke-linecap="round"/>
<line x1="357.2" y1="276.7" x2="358.4" y2="276.0" stroke="#a8452c" stroke-width="2.5" stroke-linecap="round"/>
<line x1="357.2" y1="283.2" x2="364.4" y2="279.5" stroke="#e86f3a" stroke-width="2.5" stroke-linecap="round"/>
<line x1="357.2" y1="283.2" x2="358.4" y2="282.5" stroke="#a8452c" stroke-width="2.5" stroke-linecap="round"/>
<line x1="357.2" y1="289.7" x2="364.4" y2="286.0" stroke="#e86f3a" stroke-width="2.5" stroke-linecap="round"/>
<line x1="357.2" y1="289.7" x2="358.4" y2="289.0" stroke="#a8452c" stroke-width="2.5" stroke-linecap="round"/>
<line x1="357.2" y1="296.2" x2="364.4" y2="292.5" stroke="#e86f3a" stroke-width="2.5" stroke-linecap="round"/>
<line x1="357.2" y1="296.2" x2="358.4" y2="295.5" stroke="#a8452c" stroke-width="2.5" stroke-linecap="round"/>
<line x1="357.2" y1="302.7" x2="364.4" y2="299.0" stroke="#e86f3a" stroke-width="2.5" stroke-linecap="round"/>
<line x1="357.2" y1="302.7" x2="358.4" y2="302.0" stroke="#a8452c" stroke-width="2.5" stroke-linecap="round"/>
<line x1="357.2" y1="309.2" x2="364.4" y2="305.5" stroke="#e86f3a" stroke-width="2.5" stroke-linecap="round"/>
<line x1="357.2" y1="309.2" x2="358.4" y2="308.5" stroke="#a8452c" stroke-width="2.5" stroke-linecap="round"/>
<line x1="369.4" y1="218.2" x2="376.6" y2="214.5" stroke="#e86f3a" stroke-width="2.5" stroke-linecap="round"/>
<line x1="369.4" y1="218.2" x2="370.6" y2="217.5" stroke="#a8452c" stroke-width="2.5" stroke-linecap="round"/>
<line x1="369.4" y1="224.7" x2="376.6" y2="221.0" stroke="#e86f3a" stroke-width="2.5" stroke-linecap="round"/>
<line x1="369.4" y1="224.7" x2="370.6" y2="224.0" stroke="#a8452c" stroke-width="2.5" stroke-linecap="round"/>
<line x1="369.4" y1="231.2" x2="376.6" y2="227.5" stroke="#e86f3a" stroke-width="2.5" stroke-linecap="round"/>
<line x1="369.4" y1="231.2" x2="370.6" y2="230.5" stroke="#a8452c" stroke-width="2.5" stroke-linecap="round"/>
<line x1="369.4" y1="237.7" x2="376.6" y2="234.0" stroke="#e86f3a" stroke-width="2.5" stroke-linecap="round"/>
<line x1="369.4" y1="237.7" x2="370.6" y2="237.0" stroke="#a8452c" stroke-width="2.5" stroke-linecap="round"/>
<line x1="369.4" y1="244.2" x2="376.6" y2="240.5" stroke="#e86f3a" stroke-width="2.5" stroke-linecap="round"/>
<line x1="369.4" y1="244.2" x2="370.6" y2="243.5" stroke="#a8452c" stroke-width="2.5" stroke-linecap="round"/>
<line x1="369.4" y1="250.7" x2="376.6" y2="247.0" stroke="#e86f3a" stroke-width="2.5" stroke-linecap="round"/>
<line x1="369.4" y1="250.7" x2="370.6" y2="250.0" stroke="#a8452c" stroke-width="2.5" stroke-linecap="round"/>
<line x1="369.4" y1="257.2" x2="376.6" y2="253.5" stroke="#e86f3a" stroke-width="2.5" stroke-linecap="round"/>
<line x1="369.4" y1="257.2" x2="370.6" y2="256.5" stroke="#a8452c" stroke-width="2.5" stroke-linecap="round"/>
<line x1="369.4" y1="263.7" x2="376.6" y2="260.0" stroke="#e86f3a" stroke-width="2.5" stroke-linecap="round"/>
<line x1="369.4" y1="263.7" x2="370.6" y2="263.0" stroke="#a8452c" stroke-width="2.5" stroke-linecap="round"/>
<line x1="369.4" y1="270.2" x2="376.6" y2="266.5" stroke="#e86f3a" stroke-width="2.5" stroke-linecap="round"/>
<line x1="369.4" y1="270.2" x2="370.6" y2="269.5" stroke="#a8452c" stroke-width="2.5" stroke-linecap="round"/>
<line x1="369.4" y1="276.7" x2="376.6" y2="273.0" stroke="#e86f3a" stroke-width="2.5" stroke-linecap="round"/>
<line x1="369.4" y1="276.7" x2="370.6" y2="276.0" stroke="#a8452c" stroke-width="2.5" stroke-linecap="round"/>
<line x1="369.4" y1="283.2" x2="376.6" y2="279.5" stroke="#e86f3a" stroke-width="2.5" stroke-linecap="round"/>
<line x1="369.4" y1="283.2" x2="370.6" y2="282.5" stroke="#a8452c" stroke-width="2.5" stroke-linecap="round"/>
<line x1="369.4" y1="289.7" x2="376.6" y2="286.0" stroke="#e86f3a" stroke-width="2.5" stroke-linecap="round"/>
<line x1="369.4" y1="289.7" x2="370.6" y2="289.0" stroke="#a8452c" stroke-width="2.5" stroke-linecap="round"/>
<line x1="369.4" y1="296.2" x2="376.6" y2="292.5" stroke="#e86f3a" stroke-width="2.5" stroke-linecap="round"/>
<line x1="369.4" y1="296.2" x2="370.6" y2="295.5" stroke="#a8452c" stroke-width="2.5" stroke-linecap="round"/>
<line x1="369.4" y1="302.7" x2="376.6" y2="299.0" stroke="#e86f3a" stroke-width="2.5" stroke-linecap="round"/>
<line x1="369.4" y1="302.7" x2="370.6" y2="302.0" stroke="#a8452c" stroke-width="2.5" stroke-linecap="round"/>
<line x1="369.4" y1="309.2" x2="376.6" y2="305.5" stroke="#e86f3a" stroke-width="2.5" stroke-linecap="round"/>
<line x1="369.4" y1="309.2" x2="370.6" y2="308.5" stroke="#a8452c" stroke-width="2.5" stroke-linecap="round"/>
<path d="M336,249.5 H383 M336,274 H383 M329,212 V241 Q329,249.5 337,249.5 M383,274 H337 Q329,274.5 329,283 V311" fill="none" stroke="#eb7c3e" stroke-width="2.8"/>
<path d="M341,220 H383 M345,300 H383" fill="none" stroke="#eb7c3e" stroke-width="5"/>
<rect x="384" y="210.7" width="16" height="101" fill="#f8f8f8"/>
<rect x="343" y="206.5" width="5" height="6" fill="#fff" stroke="#999" stroke-width="0.8"/>
<rect x="388" y="316" width="5" height="5" fill="#fff" stroke="#999" stroke-width="0.7"/>
<rect x="400" y="212" width="131" height="103.5" fill="url(#bg2)"/>
<rect x="403" y="212" width="128" height="20" fill="#d8d8d8" opacity="0.7"/>
<rect x="436" y="236" width="30" height="52" fill="#cacaca" opacity="0.7"/>
<rect x="470" y="299" width="61" height="16.5" fill="#cdcdcd"/>
<rect x="403" y="232" width="20" height="60" fill="#8c8c8c" opacity="0.5"/>
<rect x="400" y="212" width="3.5" height="103.5" fill="#2c2c2c"/>
<path d="M433,217.5 H505 Q510,217.5 510,222 V228 M468,240 V285 Q468,290.5 462,290.5 H413 Q408,290.5 408,286 V253 M468,240 Q468,235 473,235 H480 M400,249.5 H410 M403.5,274 V308 Q403.5,311.8 408,311.8 H425 M470.5,290 V314" fill="none" stroke="#a9582c" stroke-width="3.4"/><path d="M433,217.5 H505 Q510,217.5 510,222 V228 M468,240 V285 Q468,290.5 462,290.5 H413 Q408,290.5 408,286 V253 M468,240 Q468,235 473,235 H480 M400,249.5 H410 M403.5,274 V308 Q403.5,311.8 408,311.8 H425 M470.5,290 V314" fill="none" stroke="#d48a55" stroke-width="1.2"/>
<path d="M488,304 V233 Q488,228.6 492,228.6 H497 Q501,228.6 501,233 M494,304 V237 Q494,232.5 498,232.5" fill="none" stroke="#9a4e26" stroke-width="3.2"/><path d="M488,304 V233 Q488,228.6 492,228.6 H497 Q501,228.6 501,233 M494,304 V237 Q494,232.5 498,232.5" fill="none" stroke="#c87a48" stroke-width="1.1"/>
<path d="M471.5,223 H514" fill="none" stroke="#e6a088" stroke-width="2.4"/>
<path d="M430,226.5 H462" fill="none" stroke="#eb8a4e" stroke-width="2.6"/>
<rect x="460.5" y="225" width="9.5" height="4" fill="#f2f2f2"/>
<path d="M400,220.4 H427 M400,301.5 H430" fill="none" stroke="#e8803f" stroke-width="4"/>
<path d="M429.5,281 V304" fill="none" stroke="#e2803f" stroke-width="5"/>
<rect x="425.5" y="304" width="26" height="12.5" rx="4" fill="url(#cyl)"/>
<rect x="424" y="213.5" width="10" height="20" fill="#e0232a"/>
<circle cx="429" cy="218" r="5" fill="#d42027"/>
<rect x="427" y="231.4" width="28.8" height="24.6" fill="#f4cccc"/>
<rect x="424" y="231.4" width="8" height="33" fill="#e0232a"/><rect x="427" y="231.4" width="28.8" height="3.5" fill="#e0232a"/>
<rect x="433.5" y="237" width="4" height="16" fill="#f9dcdc"/>
<rect x="442" y="257" width="7" height="5.5" fill="#e0232a"/>
<path d="M420,264.4 H436.5 L435,273 L433,281 H423 L421.5,273Z" fill="#e0232a"/><path d="M421,270 H436" stroke="#b01a20" stroke-width="1"/>
<rect x="499" y="233" width="30" height="75.5" rx="3" fill="url(#cg)"/>
<ellipse cx="514" cy="235.5" rx="15" ry="5" fill="#2e2e2e"/>
<rect x="509" y="222" width="4" height="10" fill="#6a4a3a"/>
<rect x="490" y="304" width="40" height="7" rx="2" fill="#262626"/>
<line x1="534.5" y1="212" x2="534.5" y2="316" stroke="#cfcfcf" stroke-width="1"/>
<rect x="496" y="205" width="5" height="5" fill="#fff" stroke="#999" stroke-width="0.7"/>
<rect x="544" y="207" width="29.5" height="116" fill="#a8a8a8"/>
<rect x="551" y="214" width="14" height="101.75" fill="#fcfcfc"/>
<rect x="565" y="316" width="8.5" height="15.5" fill="#9a9a9a"/>
<rect x="555.2" y="249.7" width="5.6" height="28.6" rx="2.5" fill="#f0f0f0" stroke="#2e2e2e" stroke-width="1.4"/><rect x="554.5" y="249" width="7" height="8" rx="3" fill="#2e2e2e"/><rect x="554.5" y="271" width="7" height="8" rx="3" fill="#2e2e2e"/>
<rect x="553.5" y="200.0" width="7" height="6" rx="2.5" fill="#f2f2f2" stroke="#8a8a8a" stroke-width="0.9"/>
</g>
<g id="red">
<polyline points="83,64 271,64 298,103" fill="none" stroke="#ea4242" stroke-width="2"/>
<polyline points="145,179 309,179 338.5,139" fill="none" stroke="#ea4242" stroke-width="2"/>
<polyline points="610.5,39 444.5,39 444.5,137" fill="none" stroke="#ea4242" stroke-width="2"/>
<polyline points="695,69.25 527.5,69.25 500,108.5" fill="none" stroke="#ea4242" stroke-width="2"/>
<polyline points="762.5,145 534.5,145" fill="none" stroke="#ea4242" stroke-width="2"/>
<polyline points="739.5,220.5 544,220.5 518,259.5" fill="none" stroke="#ea4242" stroke-width="2"/>
<polyline points="731,283 471.5,283 446,242.5" fill="none" stroke="#ea4242" stroke-width="2"/>
<polyline points="765,312.5 556.5,312.5" fill="none" stroke="#ea4242" stroke-width="2"/>
<polyline points="92,272.2 319,272.2 347,232.5" fill="none" stroke="#ea4242" stroke-width="2"/>
<polyline points="76,370 323,370 323,297" fill="none" stroke="#ea4242" stroke-width="2"/>
<polyline points="609.6,372.3 444.5,372.3 444.5,273" fill="none" stroke="#ea4242" stroke-width="2"/>
</g>
<g class="t">
<text x="82.20" y="59.0" textLength="188.60" lengthAdjust="spacingAndGlyphs">Коссетные сменные фильтры</text>
<text x="143.70" y="174.5" textLength="109.60" lengthAdjust="spacingAndGlyphs">Блок автоматики</text>
<text x="453.70" y="32.5" textLength="157.10" lengthAdjust="spacingAndGlyphs">Вентиляторы EBM papst</text>
<text x="527.95" y="63.25" textLength="167.35" lengthAdjust="spacingAndGlyphs">Жидкостной рекуператор</text>
<text x="590.20" y="110.3" textLength="144.60" lengthAdjust="spacingAndGlyphs">Четырехрядные медно-</text>
<text x="590.20" y="124.7" textLength="175.10" lengthAdjust="spacingAndGlyphs">алюминиевые оребренные</text>
<text x="589.20" y="138.5" textLength="108.10" lengthAdjust="spacingAndGlyphs">теплообменники</text>
<text x="591.70" y="198.25" textLength="147.10" lengthAdjust="spacingAndGlyphs">Роторный компрессор</text>
<text x="591.70" y="212.5" textLength="136.10" lengthAdjust="spacingAndGlyphs">фреонового контура</text>
<text x="601.20" y="262.0" textLength="126.60" lengthAdjust="spacingAndGlyphs">Насос жидкостного</text>
<text x="601.20" y="276.5" textLength="92.10" lengthAdjust="spacingAndGlyphs">рекуператора</text>
<text x="584.90" y="307.1" textLength="179.60" lengthAdjust="spacingAndGlyphs">Коссетные сменные фильтры</text>
<text x="92.95" y="266.5" textLength="168.60" lengthAdjust="spacingAndGlyphs">Жидкостной рекуператор</text>
<text x="75.00" y="349.5" textLength="237.60" lengthAdjust="spacingAndGlyphs">Четырехрядные медно-алюминиевые</text>
<text x="119.20" y="363.8" textLength="193.60" lengthAdjust="spacingAndGlyphs">оребренные теплообменники</text>
<text x="471.00" y="351.2" textLength="223.60" lengthAdjust="spacingAndGlyphs">Насос жидкостного рекуператора</text>
<text x="453.50" y="367.5" textLength="156.90" lengthAdjust="spacingAndGlyphs">Вентиляторы EBM papst</text>
</g>
<g id="arrows"><path d="M62.5,129.8 H73.2 V114 L84,144 L73.2,174 V158.2 H62.5Z" fill="none" stroke="#111" stroke-width="1.8" stroke-linejoin="bevel"/>
<path d="M81.5,248.3 H71.2 V233.4 L60.5,262.6 L71.2,291 V276.2 H81.5Z" fill="none" stroke="#111" stroke-width="1.8" stroke-linejoin="bevel"/>
<path d="M797.3,126.5 H807.2 V113 L819.2,141 L807.2,170.5 V154.2 H797.3Z" fill="none" stroke="#111" stroke-width="1.8" stroke-linejoin="bevel"/>
<path d="M814.7,248.3 H804.2 V233 L793,262.4 L804.2,291 V275.2 H814.7Z" fill="none" stroke="#111" stroke-width="1.8" stroke-linejoin="bevel"/></g>
<text class="v" style="font-size:23px" transform="translate(37,240.5) rotate(-90)" textLength="78.5" lengthAdjust="spacingAndGlyphs">УЛИЦА</text>
<text class="v" style="font-size:22px" transform="translate(842,134.5) rotate(90)" textLength="152.5" lengthAdjust="spacingAndGlyphs">ПОМЕЩЕНИЕ</text>
</svg>
</body></html>
